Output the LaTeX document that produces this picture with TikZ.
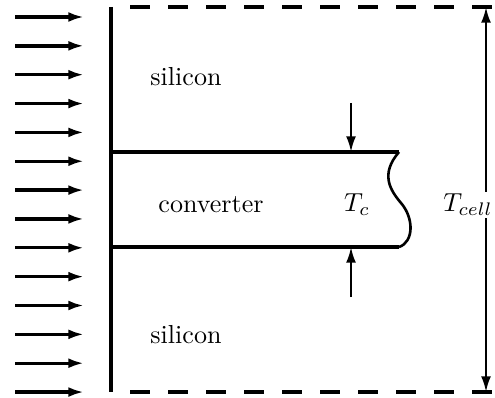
\documentclass[tikz,border=0pt]{standalone}
\usetikzlibrary{arrows.meta,positioning}

\begin{document}
\begin{tikzpicture}[
        x=0.384pt, y=-0.384pt,
        >={Latex[length=6pt,width=3.8pt]},
        line width=1.2pt,
        lightray/.style={->, line width=1.3pt},
        dimline/.style={line width=0.9pt},
    ]
        \useasboundingbox (0,0) rectangle (495,398);

        % Incoming light
        \foreach \i in {0,...,13} {
            \coordinate (r\i) at (15,{17+28.85*\i});
            \coordinate (s\i) at (84,{17+28.85*\i});
            \draw[lightray] (r\i) -- (s\i);
        }

        % Cell boundaries
        \coordinate (TL) at (111,7);
        \coordinate (BL) at (111,392);
        \draw (TL) -- (BL);
        \draw[line width=1.4pt, dash pattern=on 7.7pt off 6.9pt] (130,7) coordinate (dt0) -- (493,7) coordinate (dt1);
        \draw[line width=1.4pt, dash pattern=on 7.7pt off 6.9pt] (130,392) coordinate (db0) -- (493,392) coordinate (db1);

        % Converter layer
        \coordinate (CT) at (111,152);
        \coordinate (CB) at (111,247);
        \coordinate (ET) at (399,152);
        \coordinate (EB) at (399,247);
        \draw[line width=1.4pt] (CT) -- (ET);
        \draw[line width=1.4pt] (CB) -- (EB);
        \draw[line width=1pt] (ET) .. controls (380,174) and (390,190) .. (401,203)
            .. controls (414,218) and (414,242) .. (EB);

        % Converter thickness
        \coordinate (ca) at (351,103);
        \coordinate (cb) at (351,297);
        \draw[->, dimline] (ca) -- (ET -| ca);
        \draw[->, dimline] (cb) -- (EB -| cb);

        % Cell thickness
        \coordinate (da) at (486,7);
        \coordinate (db) at (486,392);
        \draw[<->, dimline] (db) -- (da);

        % Labels
        \node (si1) at (186,77) {silicon};
        \node (si2) at (186,335) {silicon};
        \node (conv) at (211,205) {converter};
        \node (Tc) at (357,205) {$T_c$};
        \node[fill=white, inner sep=1pt] (Tcell) at (468,205) {$T_{cell}$};
    \end{tikzpicture}
\end{document}
